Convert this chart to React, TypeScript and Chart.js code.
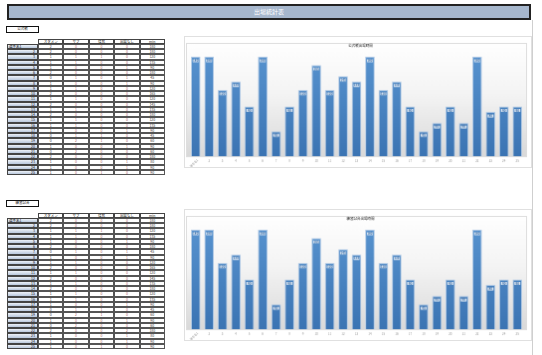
import React, { useEffect, useRef } from "react";
import { Chart, registerables } from "chart.js";

Chart.register(...registerables);

const pageTitle = "出場統計表";
const sectionLabels = ["公式戦", "練習試合"];
const chartTitles = ["公式戦出場時間", "練習試合出場時間"];
const columnHeaders = ["スタメン", "サブ", "怪我", "出場なし", "min"];
const players = [
  "選手名1", "2", "3", "4", "5", "6", "7", "8", "9", "10", "11", "12", "13",
  "14", "15", "16", "17", "18", "19", "20", "21", "22", "23", "24", "25",
];

// 公式戦
const officialStarts = [2, 2, 1, 1, 1, 2, 0, 1, 1, 2, 1, 2, 1, 2, 1, 1, 1, 0, 0, 1, 0, 2, 1, 1, 1];
const officialSubs = [0, 0, 1, 1, 0, 0, 1, 0, 1, 0, 1, 0, 1, 0, 1, 1, 0, 1, 2, 0, 2, 0, 0, 0, 0];
const officialInjury = [0, 0, 1, 0, 0, 0, 0, 0, 0, 0, 0, 0, 0, 0, 0, 0, 0, 1, 1, 0, 0, 0, 0, 0, 1];
const officialAbsent = [0, 0, 0, 0, 1, 0, 1, 1, 0, 0, 0, 0, 0, 0, 0, 0, 1, 0, 0, 1, 0, 0, 1, 1, 0];
const officialMinutes = [180, 180, 120, 135, 90, 180, 45, 90, 120, 165, 120, 145, 135, 180, 120, 135, 90, 45, 60, 90, 60, 180, 80, 90, 90];

// 練習試合
const practiceStarts = [2, 2, 1, 1, 1, 2, 0, 1, 1, 2, 1, 2, 1, 2, 1, 1, 1, 0, 0, 1, 0, 2, 1, 1, 1];
const practiceSubs = [0, 0, 1, 1, 0, 0, 1, 0, 1, 0, 1, 0, 1, 0, 1, 1, 0, 1, 2, 0, 2, 0, 0, 0, 0];
const practiceInjury = [0, 0, 1, 0, 0, 0, 0, 0, 0, 0, 0, 0, 0, 0, 0, 0, 0, 1, 1, 0, 0, 0, 0, 0, 1];
const practiceAbsent = [0, 0, 0, 0, 1, 0, 1, 1, 0, 0, 0, 0, 0, 0, 0, 0, 1, 0, 0, 1, 0, 2, 1, 1, 0];
const practiceMinutes = [180, 180, 120, 135, 90, 180, 45, 90, 120, 165, 120, 145, 135, 180, 120, 135, 90, 45, 60, 90, 60, 180, 80, 90, 90];

const FONT = "'Noto Sans CJK JP', 'Noto Sans', sans-serif";

const decorPlugin = {
  id: "decor",
  beforeDatasetsDraw(chart: any) {
    const { ctx, chartArea: a } = chart;
    ctx.save();
    const g = ctx.createLinearGradient(0, a.top, 0, a.bottom);
    g.addColorStop(0, "#ffffff");
    g.addColorStop(0.45, "#f4f4f4");
    g.addColorStop(1, "#d9d9d9");
    ctx.fillStyle = g;
    ctx.fillRect(a.left - 2, a.top, a.right - a.left + 4, a.bottom - a.top);
    ctx.strokeStyle = "#dedede";
    ctx.lineWidth = 1;
    ctx.strokeRect(a.left - 2.5, a.top + 0.5, a.right - a.left + 5, a.bottom - a.top);
    ctx.restore();
  },
  afterDatasetsDraw(chart: any, _args: any, opts: any) {
    const { ctx, chartArea: a } = chart;
    const meta = chart.getDatasetMeta(0);
    const xs = chart.scales.x;
    ctx.save();
    // value labels
    ctx.font = `bold 3px ${FONT}`;
    ctx.textAlign = "center";
    ctx.textBaseline = "middle";
    meta.data.forEach((bar: any, i: number) => {
      const v = chart.data.datasets[0].data[i];
      ctx.fillStyle = "rgba(255,255,255,0.8)";
      ctx.fillRect(bar.x - 3, bar.y + 2.5, 6, 3);
      ctx.fillStyle = "#3d6fa8";
      ctx.fillText(String(v), bar.x, bar.y + 4);
    });
    // x labels
    ctx.fillStyle = "#9a9a9a";
    ctx.font = `3px ${FONT}`;
    chart.data.labels.forEach((lab: string, i: number) => {
      const x = xs.getPixelForValue(i);
      if (i === 0) {
        ctx.save();
        ctx.translate(x + 2, a.bottom + 3.5);
        ctx.rotate(-Math.PI / 4);
        ctx.textAlign = "right";
        ctx.fillText(lab, 0, 0);
        ctx.restore();
      } else {
        ctx.textAlign = "center";
        ctx.fillText(lab, x, a.bottom + 5);
      }
    });
    // title
    ctx.fillStyle = "#222";
    ctx.font = `3.5px ${FONT}`;
    ctx.textAlign = "center";
    ctx.fillText(opts.title, (a.left + a.right) / 2 + 4, a.top + 2.5);
    ctx.restore();
  },
};

function BarChart({ labels, values, title, top }: { labels: string[]; values: number[]; title: string; top: number }) {
  const ref = useRef<HTMLCanvasElement>(null);
  useEffect(() => {
    const c = ref.current!;
    const chart = new Chart(c, {
      type: "bar",
      data: {
        labels,
        datasets: [
          {
            data: values,
            backgroundColor: (ctx: any) => {
              const ch = ctx.chart;
              const a = ch.chartArea;
              if (!a) return "#4a85c4";
              const g = ch.ctx.createLinearGradient(0, a.top, 0, a.bottom);
              g.addColorStop(0, "#5a96d2");
              g.addColorStop(1, "#3b74b3");
              return g;
            },
            borderColor: "#b3cbe6",
            borderWidth: 1,
            barPercentage: 0.72,
            categoryPercentage: 1,
          },
        ],
      },
      options: {
        responsive: false,
        animation: false,
        devicePixelRatio: 1,
        layout: { padding: { left: 4, right: 7, top: 6, bottom: 11 } },
        scales: {
          x: { display: false },
          y: { display: false, min: 0, max: 205 },
        },
        plugins: {
          legend: { display: false },
          tooltip: { enabled: false },
          decor: { title },
        } as any,
      },
      plugins: [decorPlugin],
    });
    return () => chart.destroy();
  }, []);
  return (
    <canvas
      ref={ref}
      width={348}
      height={132}
      style={{ position: "absolute", left: 184, top, width: 348, height: 132, border: "1px solid #e0e0e0", boxSizing: "border-box" }}
    />
  );
}

function StatTable({
  top, label, starts, subs, injury, absent, minutes,
}: {
  top: number; label: string; starts: number[]; subs: number[]; injury: number[]; absent: number[]; minutes: number[];
}) {
  const rowH = 5.25;
  const left = 7;
  const labW = 31;
  const colW = 25.4;
  const headTop = top + 13;
  const cells: React.ReactNode[] = [];
  const cols = [starts, subs, injury, absent, minutes];
  columnHeaders.forEach((h, j) => {
    cells.push(
      <div key={"h" + j} style={{
        position: "absolute", left: left + labW + j * colW, top: headTop, width: colW, height: rowH,
        border: "1px solid #444", boxSizing: "border-box", background: "#fff",
        fontSize: 3.5, lineHeight: `${rowH - 2}px`, textAlign: "center", color: "#222",
      }}>{h}</div>
    );
  });
  players.forEach((p, i) => {
    const y = headTop + rowH * (i + 1);
    cells.push(
      <div key={"l" + i} style={{
        position: "absolute", left, top: y, width: labW, height: rowH,
        border: "1px solid #444", boxSizing: "border-box",
        background: "linear-gradient(#eef2f8, #b9c8dd)",
        fontSize: 3.5, lineHeight: `${rowH - 2}px`, textAlign: i === 0 ? "left" : "right", paddingRight: 2, paddingLeft: 1, color: "#222",
      }}>{p}</div>
    );
    cols.forEach((col, j) => {
      cells.push(
        <div key={"c" + i + "_" + j} style={{
          position: "absolute", left: left + labW + j * colW, top: y, width: colW, height: rowH,
          border: "1px solid #555", boxSizing: "border-box", background: "#fff",
          fontSize: 3.5, lineHeight: `${rowH - 2}px`, textAlign: "center",
          color: j === 0 || j === 4 ? "#444" : "#b06a6a",
        }}>{col[i]}</div>
      );
    });
  });
  return (
    <>
      <div style={{
        position: "absolute", left: 6, top, width: 33, height: 7, border: "1.5px solid #111", boxSizing: "border-box",
        background: "#fff", fontSize: 3.5, lineHeight: "4px", textAlign: "center", color: "#222",
      }}>{label}</div>
      {cells}
    </>
  );
}

export default function App() {
  return (
    <div style={{ position: "fixed", left: 0, top: 0, width: 542, height: 355, background: "#fff", fontFamily: FONT, overflow: "hidden" }}>
      <div style={{
        position: "absolute", left: 7, top: 4, width: 524, height: 16, background: "#a6b7cd",
        border: "2px solid #222", boxSizing: "border-box", color: "#fff", fontSize: 6, lineHeight: "12px", textAlign: "center",
      }}>{pageTitle}</div>
      <div style={{ position: "absolute", left: 532, top: 20, width: 1, height: 335, background: "#cfcfcf" }} />
      <StatTable top={25.5} label={sectionLabels[0]} starts={officialStarts} subs={officialSubs} injury={officialInjury} absent={officialAbsent} minutes={officialMinutes} />
      <StatTable top={199.5} label={sectionLabels[1]} starts={practiceStarts} subs={practiceSubs} injury={practiceInjury} absent={practiceAbsent} minutes={practiceMinutes} />
      <BarChart labels={players} values={officialMinutes} title={chartTitles[0]} top={36} />
      <BarChart labels={players} values={practiceMinutes} title={chartTitles[1]} top={209} />
    </div>
  );
}
